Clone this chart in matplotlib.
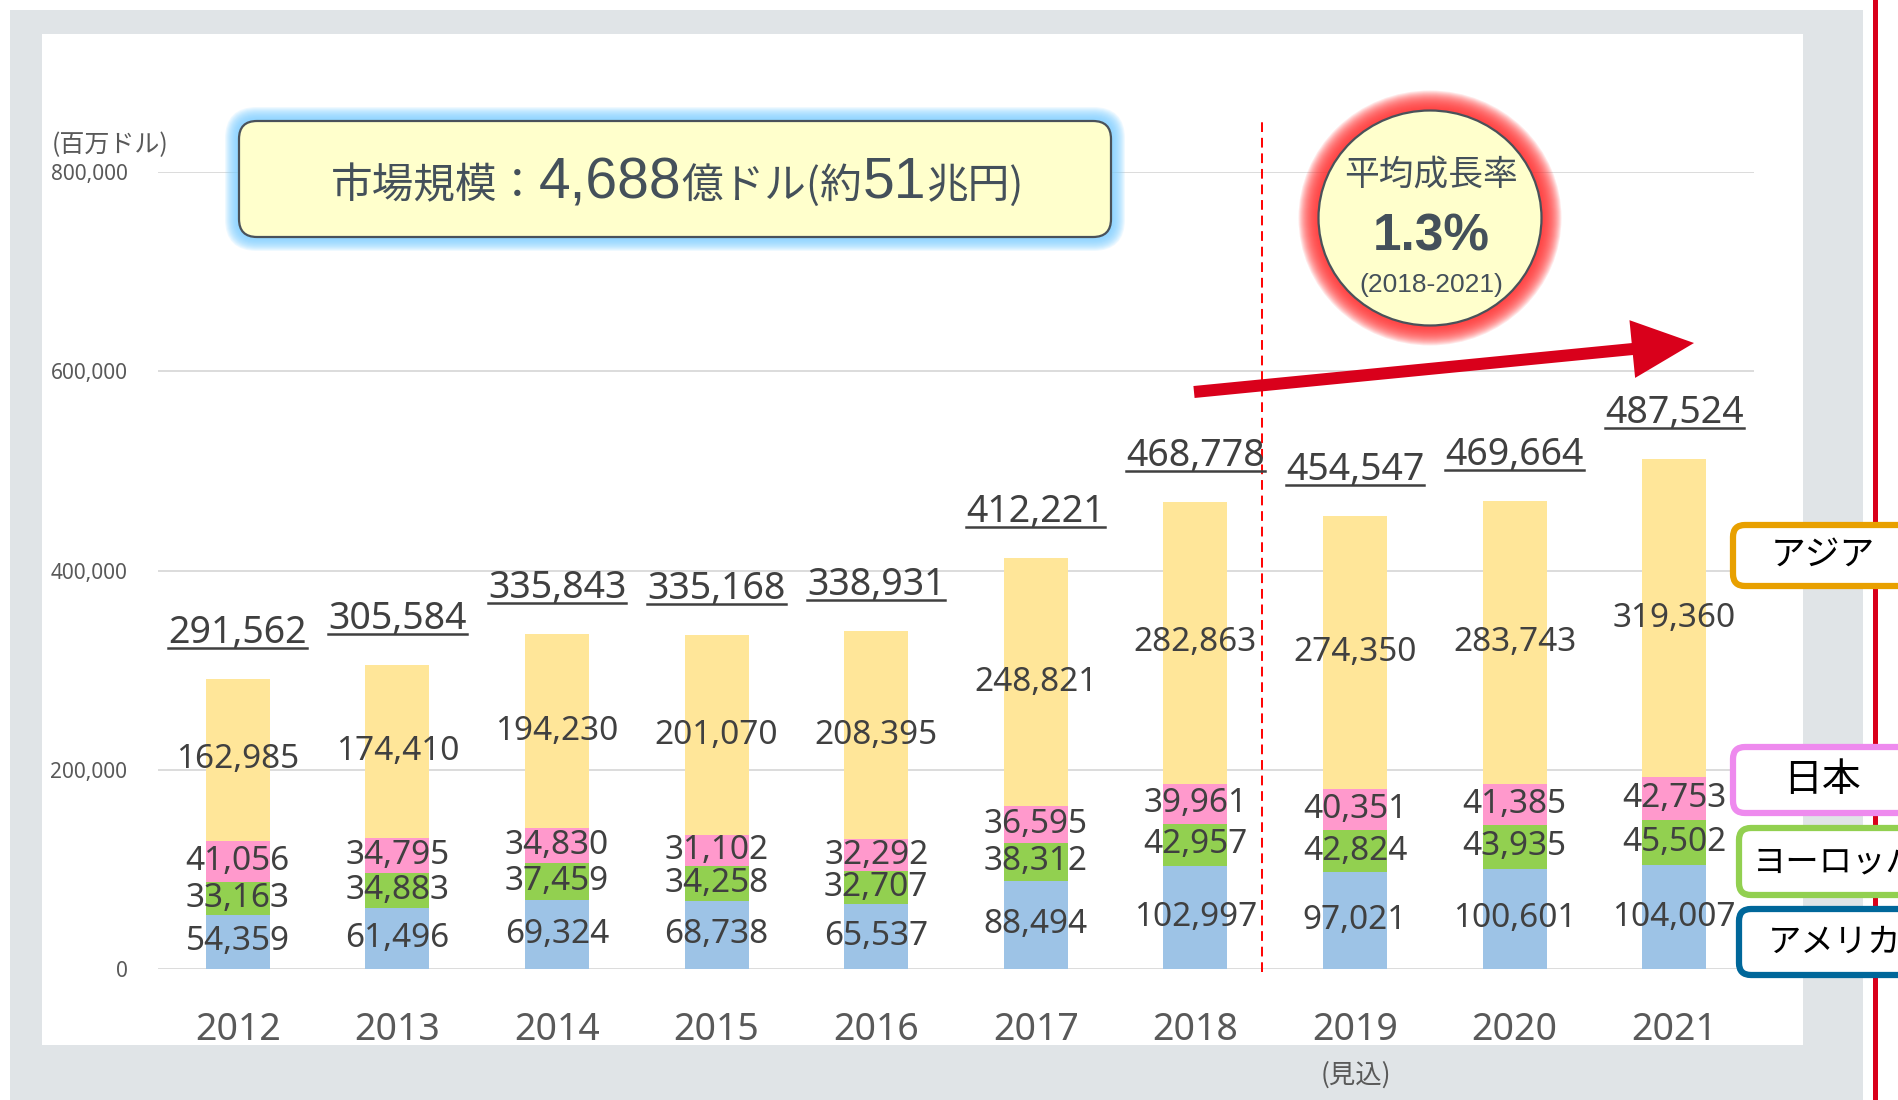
import matplotlib
matplotlib.use("Agg")
import matplotlib.pyplot as plt
from matplotlib.patches import Rectangle, FancyBboxPatch, Ellipse, FancyArrow
from matplotlib.transforms import IdentityTransform
from matplotlib.offsetbox import TextArea, HPacker, AnnotationBbox

plt.rcParams['font.family'] = ['Noto Sans CJK JP', 'DejaVu Sans']

# データ（百万ドル）
years = ["2012", "2013", "2014", "2015", "2016", "2017", "2018", "2019", "2020", "2021"]
america = [54359, 61496, 69324, 68738, 65537, 88494, 102997, 97021, 100601, 104007]
europe = [33163, 34883, 37459, 34258, 32707, 38312, 42957, 42824, 43935, 45502]
japan = [41056, 34795, 34830, 31102, 32292, 36595, 39961, 40351, 41385, 42753]
asia = [162985, 174410, 194230, 201070, 208395, 248821, 282863, 274350, 283743, 319360]
totals = [291562, 305584, 335843, 335168, 338931, 412221, 468778, 454547, 469664, 487524]
regions = ["アメリカ", "ヨーロッパ", "日本", "アジア"]
y_ticks = [0, 200000, 400000, 600000, 800000]

# 色
COLORS = {
    "アメリカ": "#9DC3E6",
    "ヨーロッパ": "#92D050",
    "日本": "#FF99CC",
    "アジア": "#FFE699",
}
EDGE_COLORS = {
    "アジア": "#E8A000",
    "日本": "#EE8AEE",
    "ヨーロッパ": "#92D050",
    "アメリカ": "#00679A",
}
TEXT_DARK = "#404040"
TEXT_GRAY = "#595959"
SLATE = "#44505A"

W, H = 1899, 1100
PX = IdentityTransform()


def yp(y):
    # 上からのピクセル位置 -> 表示座標
    return H - y


fig = plt.figure(figsize=(W / 100, H / 100), dpi=100, facecolor="white")

# 背景
fig.add_artist(Rectangle((10, 0), 1853, H - 10, transform=PX, facecolor="#E0E4E7",
                         edgecolor="none", zorder=-10))
fig.add_artist(Rectangle((42, yp(1045)), 1761, 1011, transform=PX, facecolor="white",
                         edgecolor="none", zorder=-9))
fig.add_artist(Rectangle((1873, 0), 5, H, transform=PX, facecolor="#D9001B",
                         edgecolor="none", zorder=-8))

ax = fig.add_axes([158 / W, (H - 969) / H, (1754 - 158) / W, (969 - 172) / H])
ax.set_facecolor("none")

x = list(range(len(years)))
series = [america, europe, japan, asia]
bottom = [0] * len(years)
for name, vals in zip(regions, series):
    ax.bar(x, vals, width=0.4, bottom=bottom, color=COLORS[name], zorder=2)
    for i, v in enumerate(vals):
        ax.text(i, bottom[i] + v / 2, f"{v:,}", ha="center", va="center",
                fontsize=24, color=TEXT_DARK, family=["Noto Sans", "DejaVu Sans"], zorder=4)
    bottom = [b + v for b, v in zip(bottom, vals)]

# 合計ラベル
total_texts = []
for i, t in enumerate(totals):
    txt = ax.annotate(f"{t:,}", xy=(i, bottom[i]), xytext=(0, 36), textcoords="offset pixels",
                      ha="center", va="baseline", fontsize=27, color=TEXT_DARK,
                      family=["Noto Sans", "DejaVu Sans"], zorder=4)
    total_texts.append(txt)

ax.set_xlim(-0.5, len(years) - 0.5)
ax.set_ylim(0, 800000)
ax.set_xticks(x, years)
ax.set_yticks(y_ticks, [f"{v:,}" for v in y_ticks])
ax.tick_params(axis="x", length=0, pad=30, labelsize=27, labelcolor=TEXT_GRAY)
ax.tick_params(axis="y", length=0, pad=22, labelsize=15, labelcolor=TEXT_GRAY)
for lbl in ax.get_xticklabels() + ax.get_yticklabels():
    lbl.set_family(["Noto Sans", "DejaVu Sans"])
for s in ax.spines.values():
    s.set_visible(False)
ax.yaxis.grid(True, color="#D9D9D9", lw=1.3, zorder=0)
ax.set_axisbelow(True)

# 実績と見込の境界
ax.axvline(6.42, ymin=-0.004, ymax=1.069, color="#FF0000", lw=1.4, ls=(0, (5, 3)),
           clip_on=False, zorder=3)

fig.text(52, yp(145), "(百万ドル)", transform=PX, ha="left", va="center",
         fontsize=18, color=TEXT_GRAY)
fig.text(1356, yp(1075), "(見込)", transform=PX, ha="center", va="center",
         fontsize=19, color=TEXT_GRAY)

# 市場規模ボックス（青い光彩つき）
bx0, by0, bx1, by1 = 239, 121, 1111, 237
for i in range(14, 0, -1):
    fig.add_artist(FancyBboxPatch((bx0 - i, yp(by1) - i), bx1 - bx0 + 2 * i, by1 - by0 + 2 * i,
                                  boxstyle=f"round,pad=0,rounding_size={18 + i}", transform=PX,
                                  facecolor="#7FD0FF", edgecolor="none", alpha=0.12, zorder=5))
fig.add_artist(FancyBboxPatch((bx0, yp(by1)), bx1 - bx0, by1 - by0,
                              boxstyle="round,pad=0,rounding_size=18", transform=PX,
                              facecolor="#FFFFCC", edgecolor="#4A525A", lw=1.6, zorder=6))
pieces = [("市場規模：", 30, ["Noto Sans CJK JP"]),
          ("4,688", 41, ["Liberation Sans"]),
          ("億ドル(約", 30, ["Noto Sans CJK JP"]),
          ("51", 41, ["Liberation Sans"]),
          ("兆円)", 30, ["Noto Sans CJK JP"])]
areas = [TextArea(s, textprops=dict(fontsize=fs, color=SLATE, family=fam)) for s, fs, fam in pieces]
pack = HPacker(children=areas, align="baseline", pad=0, sep=0)
ab = AnnotationBbox(pack, (677, yp(183)), xycoords="figure pixels", frameon=False,
                    box_alignment=(0.5, 0.5), zorder=7)
fig.add_artist(ab)

# 平均成長率の円（赤い光彩つき）
cx, cy, cw, ch = 1430, 218, 223, 215
for i in range(20, 0, -1):
    fig.add_artist(Ellipse((cx, yp(cy)), cw + 2 * i, ch + 2 * i, transform=PX,
                           facecolor="#FF3535", edgecolor="none", alpha=0.11, zorder=5))
fig.add_artist(Ellipse((cx, yp(cy)), cw, ch, transform=PX, facecolor="#FFFFCC",
                       edgecolor="#4A525A", lw=1.6, zorder=6))
fig.text(1431, yp(175), "平均成長率", transform=PX, ha="center", va="center",
         fontsize=25, color=SLATE, zorder=7)
fig.text(1431, yp(237), "1.3%", transform=PX, ha="center", va="center",
         fontsize=37, fontweight="bold", color=SLATE, family=["Liberation Sans"], zorder=7)
fig.text(1431, yp(285), "(2018-2021)", transform=PX, ha="center", va="center",
         fontsize=19, color=SLATE, family=["Liberation Sans"], zorder=7)

# 成長の矢印
fig.add_artist(FancyArrow(1194, yp(392), 500, 49, width=12, head_width=58,
                          head_length=62, length_includes_head=True, transform=PX,
                          facecolor="#D9001B", edgecolor="none", zorder=6))

# 地域ラベル（右端で切れる）
label_boxes = {"アジア": (525, 586, 1733, 1771, 25), "日本": (747, 813, 1733, 1783, 28),
               "ヨーロッパ": (828, 895, 1739, 1753, 24), "アメリカ": (909, 975, 1739, 1768, 24)}
for name, (t, b, left, tx, fs) in label_boxes.items():
    fig.add_artist(FancyBboxPatch((left, yp(b)), 260, b - t,
                                  boxstyle="round,pad=0,rounding_size=12", transform=PX,
                                  facecolor="white", edgecolor=EDGE_COLORS[name], lw=4.5,
                                  zorder=8))
    fig.text(tx, yp((t + b) / 2), name, transform=PX, ha="left", va="center",
             fontsize=fs, color="black", zorder=9)

# 合計ラベルの下線
fig.canvas.draw()
renderer = fig.canvas.get_renderer()
for i, txt in enumerate(total_texts):
    bb = txt.get_window_extent(renderer)
    base_y = ax.transData.transform((i, bottom[i]))[1] + 36
    fig.add_artist(plt.Line2D([bb.x0, bb.x1], [base_y - 5, base_y - 5], transform=PX,
                              color=TEXT_DARK, lw=1.8, zorder=4))

fig.savefig("out.png", dpi=100)
